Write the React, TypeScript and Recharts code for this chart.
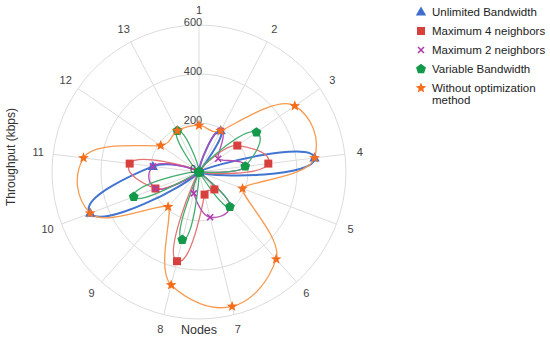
import React from "react";
import {
  RadarChart,
  Radar,
  PolarGrid,
  PolarAngleAxis,
  PolarRadiusAxis,
} from "recharts";

const nodes = ["1", "2", "3", "4", "5", "6", "7", "8", "9", "10", "11", "12", "13"];
const unlimited = [0, 190, 0, 475, 0, 0, 0, 0, 0, 475, 190, 0, 0];
const max4 = [0, 0, 190, 285, 0, 95, 95, 375, 0, 190, 285, 0, 0];
const max2 = [0, 190, 95, 190, 0, 190, 190, 90, 0, 190, 190, 0, 0];
const variable = [0, 0, 285, 190, 0, 190, 0, 285, 0, 285, 0, 0, 190];
const noOpt = [190, 190, 475, 475, 190, 475, 565, 475, 190, 475, 475, 190, 190];
const radiusTicks = [0, 200, 400, 600];

const data = nodes.map((node, i) => ({
  node,
  unlimited: unlimited[i],
  max4: max4[i],
  max2: max2[i],
  variable: variable[i],
  noOpt: noOpt[i],
}));

type MarkerKind = "triangle" | "square" | "cross" | "pentagon" | "star";

const series: {
  key: string;
  name: string;
  line: string;
  mark: string;
  width: number;
  marker: MarkerKind;
}[] = [
  { key: "unlimited", name: "Unlimited Bandwidth", line: "#4175d0", mark: "#3e6fcf", width: 2, marker: "triangle" },
  { key: "max4", name: "Maximum 4 neighbors", line: "#e27474", mark: "#d8403d", width: 1.3, marker: "square" },
  { key: "max2", name: "Maximum 2 neighbors", line: "#b54ab5", mark: "#b03cb0", width: 1.3, marker: "cross" },
  { key: "variable", name: "Variable Bandwidth", line: "#42ad6e", mark: "#12994a", width: 1.3, marker: "pentagon" },
  { key: "noOpt", name: "Without optimization\nmethod", line: "#f89a50", mark: "#f36d1c", width: 1.3, marker: "star" },
];

const FONT = "'Liberation Sans', Arial, Helvetica, sans-serif";
const RAD = Math.PI / 180;

function polyPts(x: number, y: number, n: number, rOut: number, rIn?: number) {
  const pts: string[] = [];
  const count = rIn ? n * 2 : n;
  for (let k = 0; k < count; k++) {
    const r = rIn && k % 2 === 1 ? rIn : rOut;
    const a = -Math.PI / 2 + (k * 2 * Math.PI) / count;
    pts.push(`${(x + r * Math.cos(a)).toFixed(2)},${(y + r * Math.sin(a)).toFixed(2)}`);
  }
  return pts.join(" ");
}

function Marker({ kind, x, y, color }: { kind: MarkerKind; x: number; y: number; color: string }) {
  switch (kind) {
    case "triangle":
      return <polygon points={`${x},${y - 5.5} ${x + 5.2},${y + 3.5} ${x - 5.2},${y + 3.5}`} fill={color} />;
    case "square":
      return <rect x={x - 4} y={y - 4} width={8} height={8} fill={color} />;
    case "cross":
      return (
        <g stroke={color} strokeWidth={1.6}>
          <line x1={x - 3} y1={y - 3} x2={x + 3} y2={y + 3} />
          <line x1={x - 3} y1={y + 3} x2={x + 3} y2={y - 3} />
        </g>
      );
    case "pentagon":
      return <polygon points={polyPts(x, y, 5, 5.2)} fill={color} />;
    default:
      return <polygon points={polyPts(x, y, 5, 5.6, 2.4)} fill={color} />;
  }
}

// smooth curve with tangents taken in polar space, drawn as cubic beziers
function petalPath(points: any[]) {
  const n = points.length;
  if (!n) return "";
  const step = (-2 * Math.PI) / n;
  const tan = points.map((p, i) => {
    const prev = points[(i - 1 + n) % n];
    const next = points[(i + 1) % n];
    const k = p.radius > 0 ? 0.35 : 0.5;
    const dr = k * (next.radius - prev.radius);
    const a = p.angle * RAD;
    return {
      dr,
      ur: [Math.cos(a), -Math.sin(a)],
      t: [-p.radius * step * Math.sin(a), -p.radius * step * Math.cos(a)],
    };
  });
  const out = (i: number) => {
    const { dr, ur, t } = tan[i];
    const d = points[i].radius > 0 ? dr : Math.max(dr, 0);
    return [d * ur[0] + t[0], d * ur[1] + t[1]];
  };
  const inn = (i: number) => {
    const { dr, ur, t } = tan[i];
    const d = points[i].radius > 0 ? dr : Math.min(dr, 0);
    return [d * ur[0] + t[0], d * ur[1] + t[1]];
  };
  let d = `M${points[0].x.toFixed(2)},${points[0].y.toFixed(2)}`;
  for (let i = 0; i < n; i++) {
    const j = (i + 1) % n;
    const p = points[i];
    const q = points[j];
    const a = out(i);
    const b = inn(j);
    const c1 = [p.x + a[0] / 3, p.y + a[1] / 3];
    const c2 = [q.x - b[0] / 3, q.y - b[1] / 3];
    d += `C${c1[0].toFixed(2)},${c1[1].toFixed(2)} ${c2[0].toFixed(2)},${c2[1].toFixed(2)} ${q.x.toFixed(2)},${q.y.toFixed(2)}`;
  }
  return d;
}

const AngleTick = (props: any) => {
  const { payload, x, y, cx, cy } = props;
  const a = payload.coordinate * RAD;
  const ox = cx ?? 199;
  const oy = cy ?? 172;
  const r = Math.hypot(x - ox, y - oy);
  const extra = 162 - r;
  return (
    <text
      x={x + extra * Math.cos(a)}
      y={y - extra * Math.sin(a)}
      textAnchor="middle"
      dominantBaseline="central"
      fontSize={11}
      fill="#444"
      fontFamily={FONT}
    >
      {payload.value}
    </text>
  );
};

const RadiusTick = (props: any) => {
  const { x, y, payload } = props;
  return (
    <text
      x={x - 6}
      y={y - 3}
      textAnchor="middle"
      dominantBaseline="central"
      fontSize={11}
      fill="#444"
      fontFamily={FONT}
    >
      {payload.value}
    </text>
  );
};

export default function App() {
  return (
    <div style={{ position: "absolute", left: 0, top: 0, width: 550, height: 341, background: "#fff", fontFamily: FONT }}>
      <RadarChart
        width={550}
        height={341}
        data={data}
        cx={199}
        cy={172}
        outerRadius={147}
        startAngle={90}
        endAngle={-270}
        margin={{ top: 0, right: 0, bottom: 0, left: 0 }}
      >
        <PolarGrid gridType="circle" stroke="#dcdcdc" strokeWidth={1} />
        <PolarAngleAxis dataKey="node" axisLine={false} tickLine={false} tick={<AngleTick />} />
        <PolarRadiusAxis
          angle={90}
          domain={[0, 600]}
          ticks={radiusTicks as any}
          axisLine={false}
          tickLine={false}
          tick={<RadiusTick />}
        />
        {series.map((s) => (
          <Radar
            key={s.key}
            dataKey={s.key}
            name={s.name}
            isAnimationActive={false}
            stroke={s.line}
            fill="none"
            shape={(p: any) => (
              <path d={petalPath(p.points)} fill="none" stroke={s.line} strokeWidth={s.width} />
            )}
            dot={(p: any) => (
              <g key={`${s.key}-${p.index}`}>
                <Marker kind={s.marker} x={p.cx} y={p.cy} color={s.mark} />
              </g>
            )}
          />
        ))}
      </RadarChart>

      <div
        style={{
          position: "absolute",
          left: 11,
          top: 157,
          transform: "translate(-50%, -50%) rotate(-90deg)",
          whiteSpace: "nowrap",
          fontSize: 12,
          color: "#333",
        }}
      >
        Throughput (kbps)
      </div>
      <div
        style={{
          position: "absolute",
          left: 199,
          top: 330,
          transform: "translate(-50%, -50%)",
          whiteSpace: "nowrap",
          fontSize: 12.5,
          color: "#333",
        }}
      >
        Nodes
      </div>

      <div style={{ position: "absolute", left: 415, top: 6, fontSize: 11.5, color: "#222" }}>
        {series.map((s) => (
          <div key={s.key} style={{ display: "flex", alignItems: "flex-start", marginBottom: 7, lineHeight: "12px" }}>
            <svg width={12} height={12} style={{ flex: "none" }}>
              <Marker kind={s.marker} x={6} y={6} color={s.mark} />
            </svg>
            <span style={{ marginLeft: 5, whiteSpace: "pre-line" }}>{s.name}</span>
          </div>
        ))}
      </div>
    </div>
  );
}
